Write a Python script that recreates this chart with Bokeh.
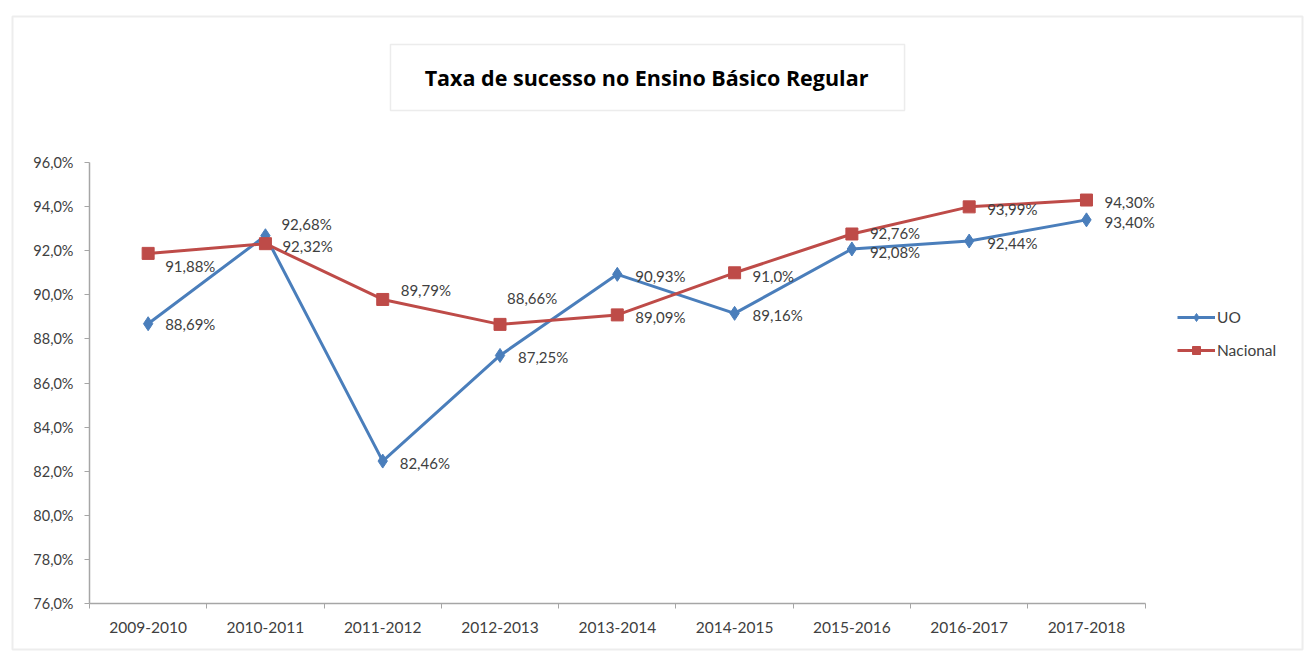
from bokeh.plotting import figure
from bokeh.models import (Range1d, LinearAxis, FixedTicker, LabelSet, Label, Grid,
                          Legend, LegendItem, BoxAnnotation, ColumnDataSource)
from bokeh.embed import file_html
from bokeh.resources import INLINE
from bokeh.core.properties import value

# ---------------- data ----------------
title_text = "Taxa de sucesso no Ensino Básico Regular"
years = ["2009-2010", "2010-2011", "2011-2012", "2012-2013", "2013-2014",
         "2014-2015", "2015-2016", "2016-2017", "2017-2018"]
uo = [88.69, 92.68, 82.46, 87.25, 90.93, 89.16, 92.08, 92.44, 93.40]
nacional = [91.88, 92.32, 89.79, 88.66, 89.09, 91.0, 92.76, 93.99, 94.30]
uo_labels = ["88,69%", "92,68%", "82,46%", "87,25%", "90,93%", "89,16%", "92,08%", "92,44%", "93,40%"]
nac_labels = ["91,88%", "92,32%", "89,79%", "88,66%", "89,09%", "91,0%", "92,76%", "93,99%", "94,30%"]
y_ticks = [76, 78, 80, 82, 84, 86, 88, 90, 92, 94, 96]
y_tick_labels = ["76,0%", "78,0%", "80,0%", "82,0%", "84,0%", "86,0%", "88,0%",
                 "90,0%", "92,0%", "94,0%", "96,0%"]
series_names = ["UO", "Nacional"]

# label placement (style: pixel offsets, y up)
uo_dx = [17, 16, 17, 18, 18, 18, 18, 18, 18]
uo_dy = [0, 12, -2, -2, -2, -2, -3, -2, -2]
nac_dx = [17, 17, 18, 7, 18, 18, 18, 18, 18]
nac_dy = [-13, -2, 9, 26, -2, -3, 1, -2, -2]

BLUE = "#4a7ebb"
RED = "#be4b48"
GRID = "#a6a6a6"
TXT = "#404040"
FONT = "Lato"

n = len(years)
x_pos = [i + 0.5 for i in range(n)]          # category slot centres
x_bounds = [float(i) for i in range(n + 1)]  # category slot edges

# the frame covers the whole canvas; the data area is 0..n x 76..96
p = figure(width=1308, height=657, x_range=Range1d(-0.7588, 10.393),
           y_range=Range1d(73.551, 103.35), x_axis_type=None, y_axis_type=None,
           output_backend="svg", toolbar_location=None,
           min_border_left=0, min_border_right=0, min_border_top=0, min_border_bottom=0)
p.title.visible = False
p.outline_line_color = None
p.background_fill_color = "white"
p.border_fill_color = "white"

# y axis
yax = LinearAxis(ticker=FixedTicker(ticks=y_ticks), bounds=(76, 96), fixed_location=0,
                 major_label_overrides={t: l for t, l in zip(y_ticks, y_tick_labels)})
yax.axis_line_color = GRID
yax.axis_line_width = 1.5
yax.major_tick_line_color = GRID
yax.major_tick_out = 5
yax.major_tick_in = 0
yax.minor_tick_line_color = None
yax.major_label_standoff = 11
yax.major_label_text_font = FONT
yax.major_label_text_font_size = "14.5px"
yax.major_label_text_color = TXT
p.add_layout(yax, "left")

# x axis: labels at slot centres, tick marks at slot edges
xax = LinearAxis(ticker=FixedTicker(ticks=x_pos, minor_ticks=x_bounds), bounds=(0, n),
                 fixed_location=76,
                 major_label_overrides={x: y for x, y in zip(x_pos, years)})
xax.axis_line_color = GRID
xax.axis_line_width = 1.5
xax.major_tick_line_color = None
xax.major_tick_in = 0
xax.major_tick_out = 0
xax.minor_tick_line_color = GRID
xax.minor_tick_out = 5
xax.minor_tick_in = 0
xax.major_label_standoff = 13
xax.major_label_text_font = FONT
xax.major_label_text_font_size = "15.5px"
xax.major_label_text_color = TXT
p.add_layout(xax, "below")

p.xgrid.visible = False
p.ygrid.ticker = FixedTicker(ticks=y_ticks)
p.ygrid.grid_line_color = GRID
p.ygrid.grid_line_width = 1.5
if "cross_bounds" in Grid.properties():
    p.ygrid.bounds = (76, 96)
    p.ygrid.cross_bounds = (0, n)
else:
    p.ygrid.visible = False
    p.segment(x0=0, x1=n, y0=y_ticks, y1=y_ticks, line_color=GRID, line_width=1.5,
              level="underlay")

src = ColumnDataSource(dict(x=x_pos, uo=uo, nac=nacional, uo_l=uo_labels, nac_l=nac_labels,
                            uo_dx=uo_dx, uo_dy=uo_dy, nac_dx=nac_dx, nac_dy=nac_dy))

l1 = p.line("x", "uo", source=src, line_color=BLUE, line_width=3)
m1 = p.scatter("x", "uo", source=src, marker="diamond", size=14, fill_color=BLUE, line_color=BLUE)
l2 = p.line("x", "nac", source=src, line_color=RED, line_width=3)
m2 = p.scatter("x", "nac", source=src, marker="square", size=12, fill_color=RED, line_color=RED)

p.add_layout(LabelSet(x="x", y="uo", text="uo_l", source=src, x_offset="uo_dx", y_offset="uo_dy",
                      text_font=value(FONT), text_font_size="15px", text_color=TXT,
                      text_baseline="middle", text_align="left"))
p.add_layout(LabelSet(x="x", y="nac", text="nac_l", source=src, x_offset="nac_dx", y_offset="nac_dy",
                      text_font=value(FONT), text_font_size="15px", text_color=TXT,
                      text_baseline="middle", text_align="left"))

legend = Legend(items=[LegendItem(label=series_names[0], renderers=[l1, m1]),
                       LegendItem(label=series_names[1], renderers=[l2, m2])],
                location=(1177, 297))
legend.border_line_color = None
legend.background_fill_alpha = 0
legend.padding = 0
legend.margin = 0
legend.spacing = 13
legend.glyph_width = 38
legend.glyph_height = 20
legend.label_height = 20
legend.label_standoff = 2
legend.label_text_font = FONT
legend.label_text_font_size = "15.5px"
legend.label_text_color = TXT
p.add_layout(legend, "center")

# chart-area border
p.add_layout(BoxAnnotation(left=-0.6565, right=10.342, top=102.62, bottom=73.914,
                           fill_alpha=0, line_color="#c4c4c4", line_width=2, level="underlay"))

# title box and title text
p.add_layout(BoxAnnotation(left=2.566, right=6.949, top=101.35, bottom=98.36,
                           fill_color="white", fill_alpha=1, line_color="#bfbfbf", line_width=1.5))
p.add_layout(Label(x=4.749, y=99.85, text=title_text, text_font="Open Sans", text_font_style="bold",
                   text_font_size="21.5px", text_color="black",
                   text_align="center", text_baseline="middle"))

open("out.html", "w").write(file_html(p, INLINE))
